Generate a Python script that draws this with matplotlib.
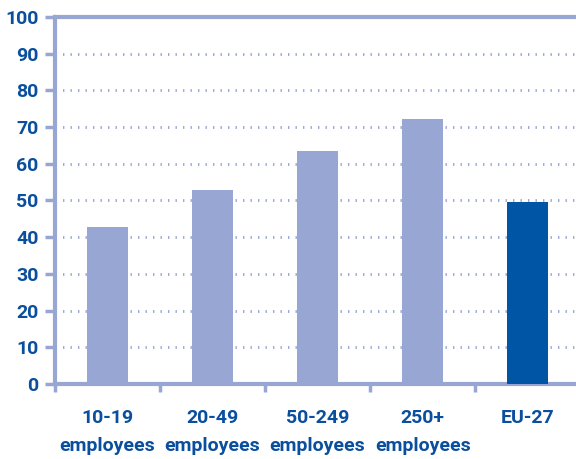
import numpy as np
import matplotlib.pyplot as plt

# categories and shares (%)
categories = ['10-19\nemployees', '20-49\nemployees', '50-249\nemployees',
              '250+\nemployees', 'EU-27']
values = [42.7, 52.8, 63.4, 72.1, 49.6]
bar_colors = ['#98a6d4', '#98a6d4', '#98a6d4', '#98a6d4', '#0055a4']

axis_col = '#98a6d4'
text_col = '#0a4f9e'
font = dict(family='Roboto', weight='bold', size=14, color=text_col)

fig = plt.figure(figsize=(5.76, 4.59), dpi=100)
ax = fig.add_axes([0.0955, 0.1634, 0.9045, 0.7996])

x = np.arange(len(categories))
ax.bar(x, values, width=0.39, color=bar_colors, zorder=3)

ax.set_ylim(0, 100)
ax.set_xlim(-0.5, 4.46)
ax.set_yticks(np.arange(0, 101, 10))
ax.set_yticklabels([str(v) for v in range(0, 101, 10)], fontdict=font)

# category ticks sit between the bars, labels centred under them
ax.set_xticks(np.arange(-0.5, 4.5, 1.0))
ax.set_xticklabels([])
ax.set_xticks(x, minor=True)
ax.set_xticklabels(categories, minor=True, fontdict=font, linespacing=1.7)
ax.tick_params(axis='x', which='minor', length=0, pad=18)
ax.tick_params(axis='x', which='major', length=6, width=2.5, color=axis_col)
ax.tick_params(axis='y', length=7, width=2.5, color=axis_col, pad=5)

for y in range(10, 100, 10):
    ax.axhline(y, color=axis_col, lw=2, ls=(0, (0.5, 2.2)), zorder=1)

for side in ['left', 'bottom', 'top']:
    ax.spines[side].set_color(axis_col)
    ax.spines[side].set_linewidth(3)
ax.spines['right'].set_visible(False)

fig.savefig('out.png', dpi=100)
